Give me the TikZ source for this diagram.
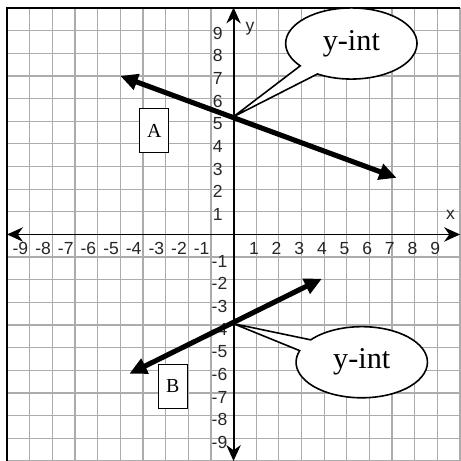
\documentclass[tikz,border=0pt]{standalone}
\usepackage{fontspec}
\setmainfont{Liberation Serif}
\newfontfamily\axisfont{Liberation Sans}
\usetikzlibrary{arrows.meta,shapes.callouts}

\tikzset{
  numlabel/.style={font=\axisfont\fontsize{11}{12}\selectfont, text=black!85, inner sep=0pt},
  linebox/.style={draw, fill=white, line width=0.8pt, minimum width=0.64cm, minimum height=0.97cm, inner sep=0pt, font=\fontsize{12.5}{14}\selectfont},
  intcallout/.style={ellipse callout, draw, fill=white, line width=1pt, minimum width=2.9cm, minimum height=1.57cm, callout pointer arc=20, inner sep=0pt, font=\fontsize{19}{22}\selectfont},
  axisarrow/.style={line width=1.2pt, {Stealth[length=10pt,width=9pt]}-{Stealth[length=10pt,width=9pt]}},
  thickarrow/.style={line width=3.2pt, {Triangle[length=11pt,width=10pt]}-{Triangle[length=11pt,width=10pt]}},
}

\begin{document}
\begin{tikzpicture}[scale=0.5]
\useasboundingbox (-10.31,-10) rectangle (10,10.35);
\draw[gray!65, line width=0.8pt] (-10,-10) grid (10,10);
\draw[line width=1.5pt] (-10,-10) -- (-10,10) -- (10,10);

\coordinate (xl) at (-10,0);
\coordinate (xr) at (10,0);
\coordinate (yb) at (0,-10);
\coordinate (yt) at (0,10.02);
\draw[axisarrow] (xl) -- (xr);
\draw[axisarrow] (yb) -- (yt);
\node[numlabel] (xlab) at (9.58,0.86) {x};
\node[numlabel] (ylab) at (0.73,9.09) {y};

\foreach \i in {1,...,9} {
  \node[numlabel] (xp\i) at (\i-0.1,-0.62) {\i};
  \node[numlabel, anchor=east] (xn\i) at (-\i-0.05,-0.62) {-\i};
  \node[numlabel] (yp\i) at (-0.7,\i-0.12) {\i};
  \node[numlabel] (yn\i) at (-0.62,-\i-0.18) {-\i};
}

\coordinate (A1) at (-5,7);
\coordinate (A2) at (7.2,2.5);
\coordinate (B1) at (-4.6,-6.15);
\coordinate (B2) at (3.9,-1.95);
\draw[thickarrow] (A1) -- (A2);
\draw[thickarrow] (B1) -- (B2);

\node[linebox] (boxA) at (-3.5,4.58) {A};
\node[linebox] (boxB) at (-2.68,-6.7) {B};

\coordinate (intA) at (0,5.2);
\coordinate (intB) at (0,-3.94);
\node[intcallout, callout absolute pointer={(intA)}] (yintA) at (5.2,8.43) {y-int};
\node[intcallout, callout absolute pointer={(intB)}] (yintB) at (5.66,-5.64) {y-int};
\end{tikzpicture}
\end{document}
